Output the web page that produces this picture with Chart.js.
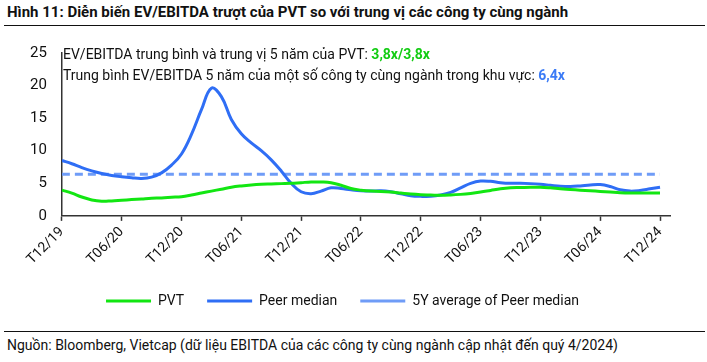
<!DOCTYPE html>
<html>
<head>
<meta charset="utf-8">
<script src="https://cdn.jsdelivr.net/npm/chart.js@4.4.1/dist/chart.umd.min.js"></script>
<style>
  body { margin: 0; width: 707px; height: 362px; background: #fff; font-family: Roboto, sans-serif; color: #111; position: relative; overflow: hidden; }
  #tieuDe { position: absolute; left: 7px; top: 3px; font-size: 15px; font-weight: bold; white-space: nowrap; }
  #vach1 { position: absolute; left: 4px; width: 701px; top: 25px; height: 0; border-top: 1.5px solid #111; }
  #khung { position: absolute; left: 0; top: 38px; width: 707px; height: 280px; }
  .ghiChu { position: absolute; left: 63px; font-size: 14px; white-space: nowrap; }
  #vach2 { position: absolute; left: 4px; width: 701px; top: 331px; height: 0; border-top: 1.5px solid #111; }
  #nguon { position: absolute; left: 7px; top: 337px; font-size: 14px; white-space: nowrap; }
</style>
</head>
<body>
<div id="tieuDe">Hình 11: Diễn biến EV/EBITDA trượt của PVT so với trung vị các công ty cùng ngành</div>
<div id="vach1"></div>
<div id="khung"><canvas id="grafico"></canvas></div>
<div class="ghiChu" style="top:46px">EV/EBITDA trung bình và trung vị 5 năm của PVT: <b style="color:#13cc13">3,8x/3,8x</b></div>
<div class="ghiChu" style="top:67px">Trung bình EV/EBITDA 5 năm của một số công ty cùng ngành trong khu vực: <b style="color:#3b7bf6">6,4x</b></div>
<div id="vach2"></div>
<div id="nguon">Nguồn: Bloomberg, Vietcap (dữ liệu EBITDA của các công ty cùng ngành cập nhật đến quý 4/2024)</div>
<script>
// Nhãn trục X (mỗi 6 tháng), dữ liệu theo tháng từ T12/19 đến T12/24
const nhanTruc = ["T12/19", "T06/20", "T12/20", "T06/21", "T12/21", "T06/22", "T12/22", "T06/23", "T12/23", "T06/24", "T12/24"];

const pvt = [
    3.96, 3.5, 2.9, 2.45, 2.25, 2.3, 2.4, 2.5, 2.6, 2.7,
    2.75, 2.85, 2.95, 3.2, 3.5, 3.8, 4.1, 4.4, 4.6, 4.75,
    4.85, 4.9, 4.95, 5.0, 5.1, 5.2, 5.2, 5.1, 4.7, 4.2,
    3.95, 3.8, 3.75, 3.65, 3.5, 3.35, 3.25, 3.2, 3.15, 3.2,
    3.3, 3.45, 3.65, 3.9, 4.15, 4.3, 4.35, 4.4, 4.4, 4.3,
    4.15, 4.05, 3.95, 3.85, 3.75, 3.65, 3.55, 3.5, 3.5, 3.5,
    3.5
];

const peerMedian = [
    8.5, 8.0, 7.4, 6.9, 6.5, 6.2, 6.0, 5.85, 5.75, 5.95,
    6.6, 7.8, 9.5, 12.5, 16.3, 19.6, 18.3, 14.8, 12.6, 11.2,
    10.0, 8.6, 6.9, 5.0, 3.7, 3.4, 3.8, 4.3, 4.2, 4.0,
    3.85, 3.8, 3.85, 3.7, 3.4, 3.1, 3.0, 3.0, 3.2, 3.6,
    4.3, 5.0, 5.35, 5.3, 5.1, 5.0, 5.0, 4.95, 4.85, 4.7,
    4.55, 4.5, 4.6, 4.75, 4.8, 4.5, 4.0, 3.8, 3.9, 4.15,
    4.4
];

const mediaPeer5Y = 6.4;

const paraPontos = arr => arr.map((y, i) => ({ x: i, y }));
const linhaMedia = peerMedian.map((_, i) => ({ x: i, y: mediaPeer5Y }));

const ctx = document.getElementById("grafico").getContext("2d");
const grafico = new Chart(ctx, {
    type: 'line',
    data: {
        datasets: [
            {
                label: "PVT",
                data: paraPontos(pvt),
                borderColor: '#12e612',
                borderWidth: 3,
                pointRadius: 0,
                tension: 0.4,
            },
            {
                label: "Peer median",
                data: paraPontos(peerMedian),
                borderColor: '#2f6ef5',
                borderWidth: 3,
                pointRadius: 0,
                tension: 0.4,
            },
            {
                label: "5Y average of Peer median",
                data: linhaMedia,
                borderColor: '#6f9cf7',
                borderWidth: 3,
                borderDash: [8, 5],
                pointRadius: 0,
            }
        ]
    },
    options: {
        responsive: true,
        maintainAspectRatio: false,
        animation: false,
        layout: { padding: { left: 15, right: 37, top: 15, bottom: 0 } },
        plugins: {
            tooltip: { enabled: false },
            legend: {
                position: 'bottom',
                labels: {
                    color: '#111',
                    font: { family: 'Roboto', size: 14 },
                    usePointStyle: true,
                    pointStyle: 'line',
                    pointStyleWidth: 45,
                    padding: 23,
                }
            }
        },
        scales: {
            x: {
                type: 'linear',
                min: 0,
                max: 61,
                // bỏ phần đệm trái/phải do nhãn xoay gây ra
                afterFit: s => { s.paddingLeft = 0; s.paddingRight = 0; },
                grid: { display: true, drawOnChartArea: false, drawTicks: true, tickLength: 5, tickColor: '#333', tickWidth: 1.5 },
                border: { display: true, color: '#333', width: 1.5 },
                ticks: {
                    stepSize: 6,
                    autoSkip: false,
                    includeBounds: false,
                    maxRotation: 45,
                    minRotation: 45,
                    color: '#111',
                    font: { family: 'Roboto', size: 14 },
                    callback: v => nhanTruc[v / 6] ?? ''
                }
            },
            y: {
                min: 0,
                max: 25,
                afterFit: s => { s.paddingTop = 0; s.paddingBottom = 0; },
                grid: { display: true, drawOnChartArea: false, drawTicks: false },
                border: { display: true, color: '#333', width: 1.5 },
                ticks: {
                    stepSize: 5,
                    padding: 15,
                    color: '#111',
                    font: { family: 'Roboto', size: 15 }
                }
            }
        }
    }
});
</script>
</body>
</html>
